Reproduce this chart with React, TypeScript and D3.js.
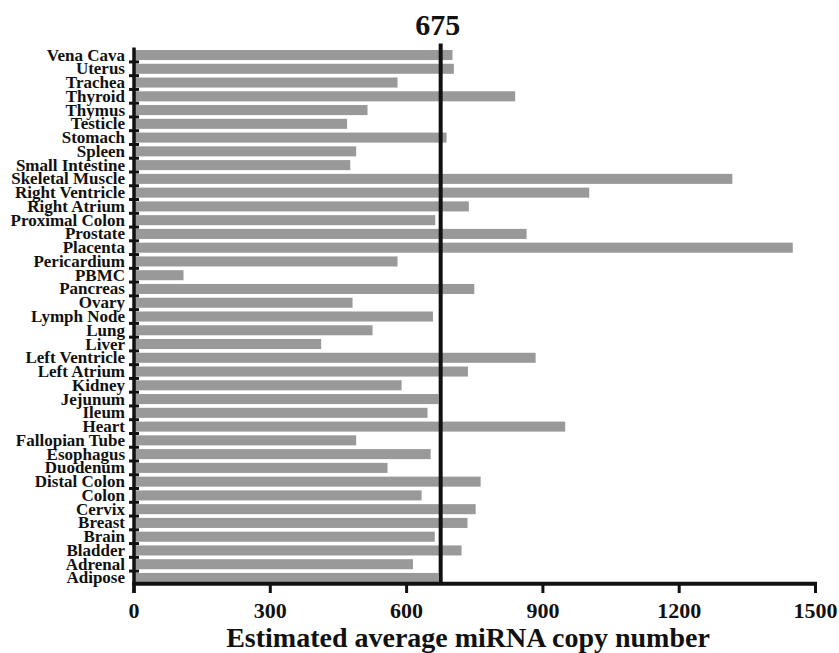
import React from "react";
import * as d3 from "d3";

const categories: string[] = [
  "Vena Cava", "Uterus", "Trachea", "Thyroid", "Thymus", "Testicle", "Stomach",
  "Spleen", "Small Intestine", "Skeletal Muscle", "Right Ventricle", "Right Atrium",
  "Proximal Colon", "Prostate", "Placenta", "Pericardium", "PBMC", "Pancreas",
  "Ovary", "Lymph Node", "Lung", "Liver", "Left Ventricle", "Left Atrium", "Kidney",
  "Jejunum", "Ileum", "Heart", "Fallopian Tube", "Esophagus", "Duodenum",
  "Distal Colon", "Colon", "Cervix", "Breast", "Brain", "Bladder", "Adrenal", "Adipose",
];

const values: number[] = [
  701, 704, 580, 839, 514, 469, 688,
  489, 476, 1317, 1002, 737,
  663, 864, 1450, 580, 109, 749,
  481, 658, 525, 412, 884, 735, 589,
  670, 646, 949, 489, 653, 558,
  763, 633, 752, 734, 662, 721, 614, 670,
];

const xTicks: number[] = [0, 300, 600, 900, 1200, 1500];
const meanValue = 675;
const meanLabel = "675";
const xTitle = "Estimated average miRNA copy number";

const FONT = "'Liberation Serif', 'Times New Roman', serif";

export default function App() {
  const W = 839;
  const H = 653;
  const x = d3.scaleLinear().domain([0, 1500]).range([134, 815.5]);
  const y = d3
    .scaleBand<string>()
    .domain(categories)
    .range([50, 583])
    .paddingInner(0.27)
    .paddingOuter(0);
  const bw = y.bandwidth();
  const step = y.step();
  const axisY = 583.7;
  const axisColor = "#111";

  const gapTicks = categories.slice(0, -1).map((c) => (y(c) as number) + bw + (step - bw) / 2);

  return (
    <svg
      width={W}
      height={H}
      style={{ position: "absolute", left: 0, top: 0, background: "#fff" }}
      fontFamily={FONT}
      fontWeight="bold"
    >
      <rect x={0} y={0} width={W} height={H} fill="#fff" />
      {categories.map((c, i) => (
        <rect
          key={c}
          x={x(0)}
          y={y(c)}
          width={x(values[i]) - x(0)}
          height={bw}
          fill="#999999"
        />
      ))}
      {categories.map((c) => (
        <text
          key={"l" + c}
          x={125}
          y={(y(c) as number) + bw / 2 + 5.5}
          textAnchor="end"
          fontSize={17}
          fill="#111"
        >
          {c}
        </text>
      ))}
      {/* y axis */}
      <line x1={x(0)} x2={x(0)} y1={47.5} y2={593} stroke={axisColor} strokeWidth={3.5} />
      {gapTicks.map((ty, i) => (
        <line key={"yt" + i} x1={x(0) - 5} x2={x(0) + 5} y1={ty} y2={ty} stroke={axisColor} strokeWidth={3} />
      ))}
      {/* mean line */}
      <line x1={x(meanValue)} x2={x(meanValue)} y1={43.5} y2={axisY} stroke={axisColor} strokeWidth={4} />
      <text x={x(meanValue) - 3} y={35} textAnchor="middle" fontSize={30} fill="#111">
        {meanLabel}
      </text>
      {/* x axis */}
      <line x1={x(0) - 1.75} x2={x(1500) + 1.5} y1={axisY} y2={axisY} stroke={axisColor} strokeWidth={4} />
      {xTicks.map((t) => (
        <g key={"xt" + t}>
          <line x1={x(t)} x2={x(t)} y1={axisY} y2={593} stroke={axisColor} strokeWidth={3} />
          <text x={x(t)} y={618} textAnchor="middle" fontSize={22} fill="#111">
            {t}
          </text>
        </g>
      ))}
      <text x={468} y={647} textAnchor="middle" fontSize={28} fill="#111">
        {xTitle}
      </text>
    </svg>
  );
}
